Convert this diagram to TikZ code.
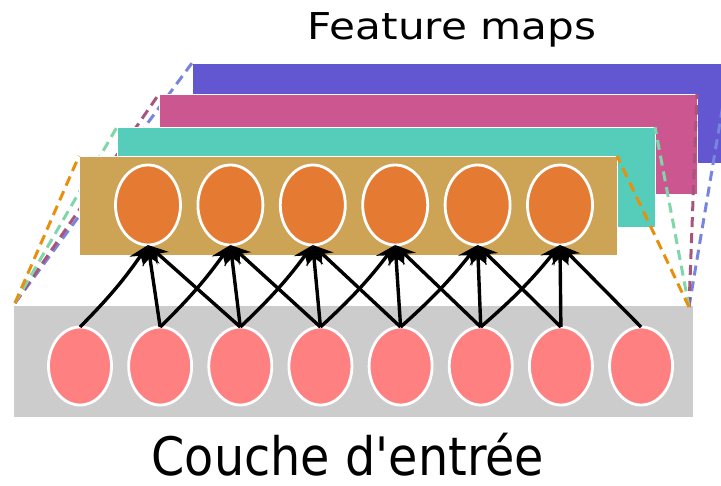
\documentclass[tikz,border=0pt]{standalone}
\usepackage{fontspec}
\setmainfont{DejaVu Sans}[Ligatures=TeXOff]
\usetikzlibrary{shapes.geometric,arrows.meta}
\definecolor{cgrey}{HTML}{CCCCCC}
\definecolor{cpink}{HTML}{FF8080}
\definecolor{cgold}{HTML}{CDA356}
\definecolor{corange}{HTML}{E57B32}
\definecolor{cteal}{HTML}{55CDBA}
\definecolor{cmag}{HTML}{CC5690}
\definecolor{cblue}{HTML}{6257D1}
\definecolor{dorange}{HTML}{E8900E}
\definecolor{dgreen}{HTML}{7FD6A9}
\definecolor{dmag}{HTML}{A8557A}
\definecolor{dblue}{HTML}{7785E0}
\tikzset{
  mapbox/.style={rectangle, minimum width=538pt, minimum height=100pt, inner sep=0pt, outer sep=0pt, draw=white, line width=0.8pt},
  inbox/.style={rectangle, minimum width=679pt, minimum height=111pt, inner sep=0pt, outer sep=0pt, fill=cgrey},
  inneuron/.style={ellipse, minimum width=63pt, minimum height=78pt, inner sep=0pt, outer sep=0pt, fill=cpink, draw=white, line width=2.8pt},
  outneuron/.style={ellipse, minimum width=65pt, minimum height=80pt, inner sep=0pt, outer sep=0pt, fill=corange, draw=white, line width=2.8pt},
  proj/.style={dash pattern=on 10pt off 6pt, line width=3pt},
  conn/.style={line width=3.4pt, black, -{Stealth[length=20pt,width=17pt,inset=7pt]}},
}
\begin{document}
\begin{tikzpicture}[x=1pt,y=-1pt]
\useasboundingbox (0,0) rectangle (721,486);
\clip (0,0) rectangle (721,486);
% input layer
\node[inbox] (grey) at (353.5,361.5) {};
\coordinate (bl) at (15,303);
\coordinate (br) at (689,307);
% feature maps, back to front
\node[mapbox, fill=cblue] (blue) at (461,113) {};
\draw[proj, dblue] (bl) -- (blue.north west);
\draw[proj, dblue] (br) -- (blue.north east);
\node[mapbox, fill=cmag] (mag) at (428,144) {};
\draw[proj, dmag] (bl) -- (mag.north west);
\draw[proj, dmag] (br) -- (mag.north east);
\node[mapbox, fill=cteal] (teal) at (386,177) {};
\draw[proj, dgreen] (bl) -- (teal.north west);
\draw[proj, dgreen] (br) -- (teal.north east);
\node[mapbox, fill=cgold, minimum height=99pt] (gold) at (348,205.5) {};
\draw[proj, dorange] (bl) -- (gold.north west);
\draw[proj, dorange] (br) -- (gold.north east);
% neurons
\foreach \i in {0,...,7} {
  \node[inneuron] (in\i) at ({80+80.15*\i},366) {};
}
\foreach \j in {0,...,5} {
  \node[outneuron] (out\j) at ({148+82.4*\j},205) {};
}
% connections
\foreach \j in {0,...,5} {
  \pgfmathtruncatemacro{\a}{\j+1}
  \pgfmathtruncatemacro{\b}{\j+2}
  \draw[conn] (in\j.north) to[bend right=5] (out\j.south);
  \draw[conn] (in\a.north) -- (out\j.south);
  \draw[conn] (in\b.north) -- (out\j.south);
}
% labels
\node[anchor=base, inner sep=0pt, xscale=1.14, font=\fontsize{37}{40}\selectfont] (title) at (452,39.5) {Feature maps};
\node[anchor=base, inner sep=0pt, xscale=0.9, font=\fontsize{53}{56}\selectfont] (inlabel) at (348,475.5) {Couche d'entrée};
\end{tikzpicture}
\end{document}
